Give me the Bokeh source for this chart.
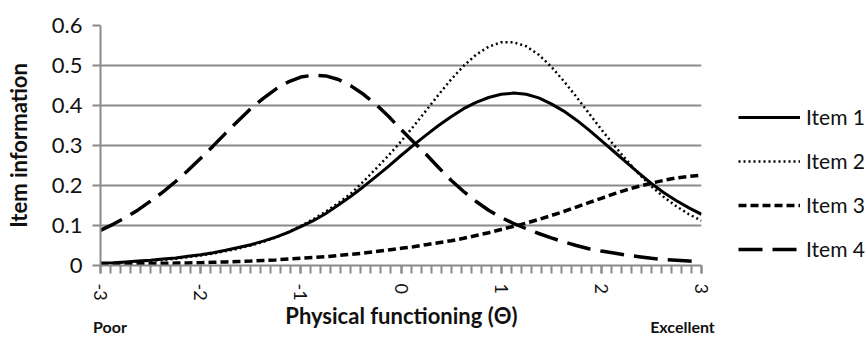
import math
from bokeh.plotting import figure
from bokeh.models import FixedTicker, Legend, LegendItem, LinearAxis, Range1d
from bokeh.layouts import row
from bokeh.embed import file_html
from bokeh.resources import INLINE

# ---- data ----
theta = [-3, -2.875, -2.75, -2.625, -2.5, -2.375, -2.25, -2.125, -2, -1.875, -1.75, -1.625,
         -1.5, -1.375, -1.25, -1.125, -1, -0.875, -0.75, -0.625, -0.5, -0.375, -0.25, -0.125,
         0, 0.125, 0.25, 0.375, 0.5, 0.625, 0.75, 0.875, 1, 1.125, 1.25, 1.375, 1.5, 1.625,
         1.75, 1.875, 2, 2.125, 2.25, 2.375, 2.5, 2.625, 2.75, 2.875, 3]
item1 = [0.006, 0.007, 0.009, 0.011, 0.013, 0.016, 0.019, 0.023, 0.027, 0.032, 0.038, 0.045,
         0.052, 0.061, 0.071, 0.083, 0.097, 0.112, 0.130, 0.151, 0.173, 0.197, 0.222, 0.248,
         0.275, 0.301, 0.326, 0.350, 0.372, 0.392, 0.408, 0.420, 0.428, 0.431, 0.428, 0.419,
         0.404, 0.386, 0.364, 0.339, 0.312, 0.285, 0.258, 0.231, 0.205, 0.182, 0.162, 0.144, 0.128]
item2 = [0.005, 0.006, 0.008, 0.010, 0.012, 0.014, 0.017, 0.021, 0.025, 0.030, 0.036, 0.042,
         0.050, 0.059, 0.070, 0.084, 0.099, 0.116, 0.135, 0.156, 0.180, 0.210, 0.242, 0.275,
         0.310, 0.348, 0.387, 0.427, 0.465, 0.499, 0.527, 0.547, 0.558, 0.558, 0.548, 0.527,
         0.497, 0.461, 0.422, 0.381, 0.340, 0.301, 0.264, 0.229, 0.198, 0.171, 0.148, 0.128, 0.112]
item3 = [0.003, 0.0035, 0.004, 0.0045, 0.005, 0.0055, 0.006, 0.0065, 0.007, 0.008, 0.009, 0.010,
         0.011, 0.0125, 0.014, 0.016, 0.018, 0.020, 0.022, 0.025, 0.028, 0.031, 0.035, 0.039,
         0.043, 0.047, 0.052, 0.057, 0.062, 0.068, 0.075, 0.082, 0.090, 0.098, 0.106, 0.115,
         0.125, 0.135, 0.146, 0.157, 0.168, 0.179, 0.189, 0.198, 0.206, 0.213, 0.219, 0.223, 0.226]
item4 = [0.088, 0.103, 0.120, 0.139, 0.161, 0.184, 0.210, 0.238, 0.268, 0.299, 0.331, 0.362,
         0.392, 0.418, 0.441, 0.459, 0.471, 0.476, 0.474, 0.465, 0.449, 0.428, 0.403, 0.373,
         0.340, 0.309, 0.278, 0.245, 0.213, 0.185, 0.160, 0.138, 0.120, 0.105, 0.092, 0.080,
         0.069, 0.059, 0.050, 0.042, 0.036, 0.031, 0.026, 0.022, 0.018, 0.015, 0.013, 0.011, 0.009]
series_names = ["Item 1", "Item 2", "Item 3", "Item 4"]

x_ticks = [-3, -2, -1, 0, 1, 2, 3]
x_tick_labels = ["-3", "-2", "-1", "0", "1", "2", "3"]
y_ticks = [0, 0.1, 0.2, 0.3, 0.4, 0.5, 0.6]
y_tick_labels = ["0", "0.1", "0.2", "0.3", "0.4", "0.5", "0.6"]
x_title = "Physical functioning (\u0398)"
y_title = "Item information"
end_labels = ["Poor", "Excellent"]

FONT = "Lato"
GRID = "#8a8a8a"
TXT = "#111111"

series = [item1, item2, item3, item4]
styles = [dict(line_width=3),
          dict(line_width=2.5, line_dash="2 3"),
          dict(line_width=3.5, line_dash="8 4"),
          dict(line_width=3.5, line_dash="24 10")]

p = figure(width=720, height=338, x_range=(-3, 3), y_range=(0, 0.6),
           output_backend="svg", toolbar_location=None,
           min_border_left=100, min_border_right=19, min_border_top=25, min_border_bottom=72)
p.outline_line_color = None
p.background_fill_color = "white"
p.border_fill_color = "white"

p.xgrid.visible = False
p.ygrid.ticker = FixedTicker(ticks=y_ticks)
p.ygrid.grid_line_color = GRID
p.ygrid.grid_line_width = 2

# x axis
minor = [round(-3 + 0.1 * i, 1) for i in range(61)]
xa = p.xaxis[0]
xa.ticker = FixedTicker(ticks=x_ticks, minor_ticks=minor)
xa.major_label_overrides = {t: l for t, l in zip(x_ticks, x_tick_labels)}
xa.major_label_orientation = -math.pi / 2
xa.axis_line_color = GRID
xa.axis_line_width = 2
xa.major_tick_line_color = GRID
xa.minor_tick_line_color = GRID
xa.major_tick_line_width = 2
xa.minor_tick_line_width = 2
xa.major_tick_out = 8
xa.major_tick_in = 0
xa.minor_tick_out = 8
xa.minor_tick_in = 0
xa.major_label_text_font = FONT
xa.major_label_text_font_size = "18px"
xa.major_label_text_color = TXT
xa.major_label_standoff = 10
xa.axis_label = x_title
xa.axis_label_text_font = FONT
xa.axis_label_text_font_style = "bold"
xa.axis_label_text_font_size = "22px"
xa.axis_label_text_color = TXT
xa.axis_label_standoff = -2

# "Poor" / "Excellent" end labels as a second, bare bottom axis
end_pos = [-2.905, 2.81]
xb = LinearAxis(ticker=FixedTicker(ticks=end_pos),
                major_label_overrides={t: l for t, l in zip(end_pos, end_labels)},
                axis_line_color=None, major_tick_line_color=None, minor_tick_line_color=None,
                major_tick_out=0, major_tick_in=0, major_label_standoff=-15,
                major_label_text_font=FONT, major_label_text_font_style="bold",
                major_label_text_font_size="16px", major_label_text_color=TXT)
p.add_layout(xb, "below")

# y axis
ya = p.yaxis[0]
ya.ticker = FixedTicker(ticks=y_ticks)
ya.major_label_overrides = {t: l for t, l in zip(y_ticks, y_tick_labels)}
ya.axis_line_color = GRID
ya.axis_line_width = 2
ya.major_tick_line_color = GRID
ya.major_tick_line_width = 2
ya.major_tick_out = 8
ya.major_tick_in = 0
ya.minor_tick_line_color = None
ya.major_label_text_font = FONT
ya.major_label_text_font_size = "22px"
ya.major_label_text_color = TXT
ya.major_label_standoff = 10
ya.axis_label = y_title
ya.axis_label_text_font = FONT
ya.axis_label_text_font_style = "bold"
ya.axis_label_text_font_size = "22px"
ya.axis_label_text_color = TXT
ya.axis_label_standoff = 17

# curves
for ys, st in zip(series, styles):
    p.line(theta, ys, line_color="black", **st)

# legend panel: a bare figure to the right; its copies of the series lie outside its view
q = figure(width=148, height=338, x_range=Range1d(10, 11), y_range=Range1d(10, 11),
           output_backend="svg", toolbar_location=None,
           x_axis_location=None, y_axis_location=None,
           min_border_left=0, min_border_right=0, min_border_top=0, min_border_bottom=0)
q.outline_line_color = None
q.grid.visible = False
q.border_fill_color = "white"
q.background_fill_color = "white"
leg_renderers = [q.line(theta, ys, line_color="black", **st) for ys, st in zip(series, styles)]

legend = Legend(items=[LegendItem(label=n, renderers=[r]) for n, r in zip(series_names, leg_renderers)],
                location=(18, 4), orientation="vertical",
                glyph_width=62, glyph_height=24, label_height=24, spacing=19,
                padding=0, margin=0, label_standoff=6,
                border_line_color=None, background_fill_alpha=0,
                label_text_font=FONT, label_text_font_size="21px", label_text_color=TXT)
q.add_layout(legend)

layout = row(p, q)
open("out.html", "w").write(file_html(layout, INLINE))
